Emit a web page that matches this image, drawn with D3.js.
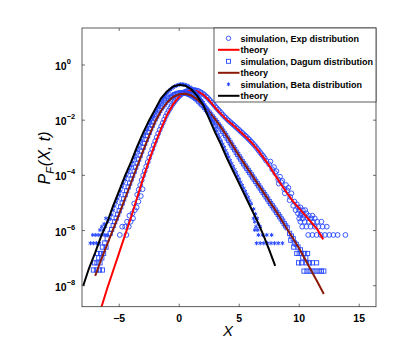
<!DOCTYPE html>
<html>
<head>
<meta charset="utf-8">
<script src="https://cdn.jsdelivr.net/npm/d3@7"></script>
<style>
  body { margin: 0; background: #fff; }
  text { font-family: "Liberation Sans", Arial, sans-serif; }
</style>
</head>
<body>
<svg id="chart"></svg>
<script>
// data: [x, log10 P]
const xTicks = [-5, 0, 5, 10, 15];
const yTickExps = [0, -2, -4, -6, -8];
const legendLabels = ["simulation, Exp distribution", "theory", "simulation, Dagum distribution", "theory", "simulation, Beta distribution", "theory"];

const theoryExp = [[-6.7,-9.1],[-6.5,-8.8],[-6,-8.1],[-5.5,-7.45],[-5,-6.8],[-4.5,-6.15],[-4,-5.5],[-3.5,-4.8],[-3,-4.1],[-2.5,-3.45],[-2,-2.85],[-1.5,-2.3],[-1,-1.8],[-0.5,-1.42],[0,-1.15],[0.5,-0.98],[1,-0.92],[1.5,-0.95],[2,-1.07],[2.5,-1.28],[3,-1.55],[3.5,-1.78],[4,-2.0],[4.5,-2.18],[5,-2.38],[5.5,-2.58],[6,-2.8],[6.5,-3.05],[7,-3.35],[7.5,-3.65],[8,-4.0],[8.5,-4.33],[9,-4.65],[9.5,-4.95],[10,-5.2],[10.5,-5.45],[11,-5.7],[11.5,-5.95],[12,-6.32]];

const theoryDagum = [[-7,-7.64],[-6.5,-7.05],[-6,-6.5],[-5.5,-5.95],[-5,-5.4],[-4.5,-4.82],[-4,-4.25],[-3.5,-3.67],[-3,-3.1],[-2.5,-2.55],[-2,-2.05],[-1.5,-1.65],[-1,-1.35],[-0.5,-1.15],[0,-1.06],[0.5,-1.04],[1,-1.1],[1.5,-1.25],[2,-1.45],[2.5,-1.7],[3,-1.97],[3.5,-2.27],[4,-2.6],[4.5,-2.95],[5,-3.3],[5.5,-3.63],[6,-3.95],[6.5,-4.28],[7,-4.6],[7.5,-4.93],[8,-5.25],[8.5,-5.6],[9,-5.95],[9.5,-6.3],[10,-6.65],[10.5,-7.05],[11,-7.45],[11.5,-7.85],[12.05,-8.3]];

const theoryBeta = [[-8,-8.0],[-7.5,-7.35],[-7,-6.8],[-6.5,-6.2],[-6,-5.7],[-5.5,-5.1],[-5,-4.55],[-4.5,-4.0],[-4,-3.5],[-3.5,-2.95],[-3,-2.45],[-2.5,-2.0],[-2,-1.6],[-1.5,-1.2],[-1,-0.95],[-0.5,-0.78],[0,-0.72],[0.5,-0.75],[1,-0.88],[1.5,-1.12],[2,-1.45],[2.5,-1.95],[3,-2.45],[3.5,-2.9],[4,-3.4],[4.5,-3.85],[5,-4.3],[5.5,-4.75],[6,-5.2],[6.5,-5.65],[7,-6.15],[7.5,-6.7],[8,-7.28]];

const simExp = [
  [-4.95,-6.16],[-4.4,-6.16],[-4.75,-5.86],[-4.5,-5.86],[-4.2,-5.86],[-4.35,-5.68],[-4.05,-5.68],[-3.85,-5.56],[-4.15,-5.46],[-3.9,-5.38],[-3.7,-5.26],[-3.55,-5.16],[-3.75,-5.02],[-3.4,-4.95],[-3.2,-4.75],[-3.05,-4.5],
  [-3.5,-4.7],[-3.25,-4.35],[-3,-4.0],[-2.75,-3.68],[-2.5,-3.36],[-2.25,-3.05],[-2,-2.76],[-1.75,-2.48],[-1.5,-2.22],[-1.25,-1.98],[-1,-1.75],[-0.75,-1.56],[-0.5,-1.39],[-0.25,-1.25],[0,-1.13],[0.25,-1.04],[0.5,-0.97],[0.75,-0.93],[1,-0.91],[1.25,-0.91],[1.5,-0.93],[1.75,-0.98],[2,-1.05],[2.25,-1.14],[2.5,-1.25],[2.75,-1.37],[3,-1.5],[3.25,-1.62],[3.5,-1.74],[3.75,-1.86],[4,-1.97],[4.25,-2.07],[4.5,-2.16],[4.75,-2.26],[5,-2.36],[5.25,-2.46],[5.5,-2.56],[5.75,-2.67],[6,-2.78],[6.25,-2.9],[6.5,-3.03],[6.75,-3.17],[7,-3.3],[7.25,-3.47],[7.5,-3.6],[7.75,-3.78],[8,-3.92],[8.25,-4.15],[8.5,-4.25],[8.75,-4.5],[9,-4.55],[9.25,-4.78],
  [-3.375,-4.52],[-3.125,-4.17],[-2.875,-3.84],[-2.625,-3.52],[-2.375,-3.2],[-2.125,-2.9],[-1.875,-2.62],[-1.625,-2.35],[-1.375,-2.1],[-1.125,-1.86],[-0.875,-1.65],[-0.625,-1.47],[-0.375,-1.32],[-0.125,-1.19],[0.125,-1.08],[0.375,-1.0],[0.625,-0.95],[0.875,-0.92],[1.125,-0.91],[1.375,-0.92],[1.625,-0.95],[1.875,-1.01],[2.125,-1.09],[2.375,-1.19],[2.625,-1.31],[2.875,-1.43],[3.125,-1.56],[3.375,-1.68],[3.625,-1.8],[3.875,-1.91],[4.125,-2.02],[4.375,-2.11],[4.625,-2.21],[4.875,-2.31],[5.125,-2.41],[5.375,-2.51],[5.625,-2.61],[5.875,-2.72],[6.125,-2.84],[6.375,-2.96],[6.625,-3.1],[6.875,-3.24],[7.125,-3.38],
  [7.6,-3.5],[7.9,-3.7],[8.1,-3.85],[8.4,-4.05],[8.6,-4.2],[8.9,-4.35],[9.1,-4.45],[9.35,-4.65],[8.3,-4.3],[8.8,-4.65],[9.2,-4.9],
  [9.6,-4.95],[9.8,-5.05],[9.5,-5.1],[9.9,-5.16],[10.1,-5.16],[9.7,-5.26],[10.0,-5.26],[10.3,-5.26],[10.5,-5.26],[9.9,-5.38],[10.2,-5.38],[10.6,-5.38],[10.1,-5.46],[10.4,-5.46],[10.8,-5.46],[11.1,-5.46],[10.0,-5.56],[10.3,-5.56],[10.7,-5.56],[11.0,-5.56],[11.3,-5.56],[10.1,-5.68],[10.45,-5.68],[10.8,-5.68],[11.15,-5.68],[11.5,-5.68],[11.85,-5.68],[10.25,-5.86],[10.6,-5.86],[10.95,-5.86],[11.3,-5.86],[11.6,-5.86],[11.95,-5.86],[12.3,-5.86],[10.75,-6.16],[11.1,-6.16],[11.45,-6.16],[11.8,-6.16],[12.15,-6.16],[12.5,-6.16],[12.85,-6.16],[13.2,-6.16],[13.85,-6.16]
];

const simDagum = [
  [-6.0,-6.3],[-6.2,-6.45],[-6.1,-6.6],[-6.4,-6.6],[-6.3,-6.83],[-6.55,-6.83],[-6.8,-6.83],[-6.45,-6.99],[-6.7,-6.99],[-6.6,-7.17],[-6.85,-7.17],[-7.05,-7.17],[-6.4,-7.43],[-6.65,-7.43],[-6.9,-7.43],[-7.15,-7.43],
  [-5.75,-6.1],[-5.5,-5.82],[-5.25,-5.55],[-5,-5.28],[-4.75,-5.0],[-4.5,-4.7],[-4.25,-4.42],[-4,-4.13],[-3.75,-3.85],[-3.5,-3.56],[-3.25,-3.27],[-3,-2.98],[-2.75,-2.7],[-2.5,-2.44],[-2.25,-2.19],[-2,-1.95],[-1.75,-1.75],[-1.5,-1.56],[-1.25,-1.42],[-1,-1.28],[-0.75,-1.18],[-0.5,-1.1],[-0.25,-1.05],[0,-1.02],[0.25,-1.01],[0.5,-1.02],[0.75,-1.05],[1,-1.1],[1.25,-1.17],[1.5,-1.26],[1.75,-1.37],[2,-1.48],[2.25,-1.61],[2.5,-1.74],[2.75,-1.88],[3,-2.02],[3.25,-2.17],[3.5,-2.32],[3.75,-2.48],[4,-2.65],[4.25,-2.82],[4.5,-2.99],[4.75,-3.16],[5,-3.33],[5.25,-3.5],[5.5,-3.66],[5.75,-3.82],[6,-3.98],[6.25,-4.14],[6.5,-4.3],[6.75,-4.46],[7,-4.62],[7.25,-4.78],[7.5,-4.95],[7.75,-5.1],[8,-5.26],[8.25,-5.42],[8.5,-5.58],[8.75,-5.75],[9,-5.9],
  [-5.625,-5.96],[-5.375,-5.68],[-5.125,-5.41],[-4.875,-5.14],[-4.625,-4.85],[-4.375,-4.56],[-4.125,-4.28],[-3.875,-3.99],[-3.625,-3.7],[-3.375,-3.41],[-3.125,-3.12],[-2.875,-2.84],[-2.625,-2.57],[-2.375,-2.31],[-2.125,-2.07],[-1.875,-1.85],[-1.625,-1.65],[-1.375,-1.49],[-1.125,-1.35],[-0.875,-1.23],[-0.625,-1.14],[-0.375,-1.07],[-0.125,-1.03],[0.125,-1.01],[0.375,-1.01],[0.625,-1.03],[0.875,-1.07],[1.125,-1.13],[1.375,-1.21],[1.625,-1.31],[1.875,-1.42],[2.125,-1.54],[2.375,-1.67],[2.625,-1.81],[2.875,-1.95],[3.125,-2.09],[3.375,-2.24],[3.625,-2.4],[3.875,-2.56],[4.125,-2.73],[4.375,-2.9],[4.625,-3.07],[4.875,-3.24],[5.125,-3.41],[5.375,-3.58],[5.625,-3.74],[5.875,-3.9],[6.125,-4.06],[6.375,-4.22],[6.625,-4.38],[6.875,-4.54],[7.125,-4.7],[7.375,-4.86],[7.625,-5.02],[7.875,-5.18],[8.125,-5.34],[8.375,-5.5],[8.625,-5.66],[8.875,-5.83],
  [9.2,-6.1],[9.35,-6.2],[9.5,-6.3],[9.3,-6.35],[9.6,-6.45],[9.75,-6.5],[9.55,-6.6],[9.9,-6.6],[10.1,-6.7],[9.8,-6.83],[10.0,-6.83],[10.2,-6.83],[10.45,-6.83],[10.7,-6.83],[10.3,-6.99],[10.55,-6.99],[9.95,-7.17],[10.2,-7.17],[10.6,-7.17],[10.85,-7.17],[11.1,-7.17],[11.45,-7.17],[10.4,-7.47],[10.65,-7.47],[10.9,-7.47],[11.15,-7.47],[11.4,-7.47],[11.65,-7.47],[11.85,-7.47],[12.05,-7.47]
];

const simBeta = [
  [-7.4,-6.46],[-7.15,-6.46],[-6.9,-6.46],[-6.65,-6.46],[-7.2,-6.16],[-6.95,-6.16],[-6.7,-6.16],[-6.45,-6.16],[-6.2,-6.16],[-6.0,-6.16],[-6.6,-5.98],[-6.3,-5.98],[-6.45,-5.86],[-6.15,-5.86],[-6.25,-5.76],[-5.95,-5.68],[-6.1,-5.56],
  [-5.75,-5.58],[-5.5,-5.27],[-5.25,-4.98],[-5,-4.72],[-4.75,-4.43],[-4.5,-4.16],[-4.25,-3.9],[-4,-3.66],[-3.75,-3.38],[-3.5,-3.11],[-3.25,-2.85],[-3,-2.6],[-2.75,-2.37],[-2.5,-2.14],[-2.25,-1.93],[-2,-1.72],[-1.75,-1.52],[-1.5,-1.33],[-1.25,-1.16],[-1,-1.02],[-0.75,-0.9],[-0.5,-0.81],[-0.25,-0.75],[0,-0.71],[0.25,-0.7],[0.5,-0.72],[0.75,-0.76],[1,-0.83],[1.25,-0.93],[1.5,-1.05],[1.75,-1.19],[2,-1.35],[2.25,-1.55],[2.5,-1.79],[2.75,-2.03],[3,-2.29],[3.25,-2.52],[3.5,-2.75],[3.75,-2.98],[4,-3.22],[4.25,-3.46],[4.5,-3.68],[4.75,-3.9],[5,-4.13],[5.25,-4.36],[5.5,-4.58],[5.75,-4.8],[6,-5.03],
  [-5.625,-5.43],[-5.375,-5.12],[-5.125,-4.85],[-4.875,-4.58],[-4.625,-4.3],[-4.375,-4.03],[-4.125,-3.78],[-3.875,-3.52],[-3.625,-3.25],[-3.375,-2.98],[-3.125,-2.73],[-2.875,-2.48],[-2.625,-2.26],[-2.375,-2.03],[-2.125,-1.83],[-1.875,-1.62],[-1.625,-1.43],[-1.375,-1.24],[-1.125,-1.09],[-0.875,-0.96],[-0.625,-0.85],[-0.375,-0.78],[-0.125,-0.73],[0.125,-0.7],[0.375,-0.71],[0.625,-0.74],[0.875,-0.8],[1.125,-0.88],[1.375,-0.99],[1.625,-1.12],[1.875,-1.27],[2.125,-1.45],[2.375,-1.67],[2.625,-1.91],[2.875,-2.16],[3.125,-2.4],[3.375,-2.63],[3.625,-2.87],[3.875,-3.1],[4.125,-3.34],[4.375,-3.57],[4.625,-3.79],[4.875,-4.02],[5.125,-4.25],[5.375,-4.47],[5.625,-4.69],[5.875,-4.92],
  [6.2,-5.22],[6.35,-5.4],[6.2,-5.56],[6.5,-5.56],[6.3,-5.68],[6.6,-5.76],[6.4,-5.86],[6.75,-5.86],[6.3,-5.98],[6.55,-5.98],[6.6,-6.16],[6.95,-6.16],[7.3,-6.16],[7.7,-6.16],[6.45,-6.46],[6.75,-6.46],[7.05,-6.46],[7.35,-6.46],[7.65,-6.46],[7.95,-6.46],[8.25,-6.46],[8.6,-6.46]
];

const width = 415;
const height = 346;
const plot = {left: 82, right: 376, top: 28, bottom: 306.7};

const svg = d3.select('svg#chart').attr('width', width).attr('height', height);

const x = d3.scaleLinear().domain([-8.1, 16.4]).range([plot.left, plot.right]);
const y = d3.scaleLog().domain([Math.pow(10, -8.76), Math.pow(10, 1.34)]).range([plot.bottom, plot.top]);

const blue = "#2748ff";
const red = "#ff0000";
const brown = "#8c1a08";

svg.append("defs").append("clipPath").attr("id", "clip")
  .append("rect")
  .attr("x", plot.left).attr("y", plot.top)
  .attr("width", plot.right - plot.left).attr("height", plot.bottom - plot.top);

const g = svg.append("g").attr("clip-path", "url(#clip)");

const line = d3.line()
  .x(d => x(d[0]))
  .y(d => y(Math.pow(10, d[1])));

function drawCircles(data) {
  g.append("g").selectAll("circle").data(data).join("circle")
    .attr("cx", d => x(d[0]))
    .attr("cy", d => y(Math.pow(10, d[1])))
    .attr("r", 2.4)
    .attr("fill", "none")
    .attr("stroke", blue)
    .attr("stroke-width", 0.9);
}
function drawSquares(data) {
  g.append("g").selectAll("rect").data(data).join("rect")
    .attr("x", d => x(d[0]) - 2.1)
    .attr("y", d => y(Math.pow(10, d[1])) - 2.1)
    .attr("width", 4.2).attr("height", 4.2)
    .attr("fill", "none")
    .attr("stroke", blue)
    .attr("stroke-width", 0.9);
}
function drawStars(data) {
  g.append("g").selectAll("path").data(data).join("path")
    .attr("transform", d => "translate(" + x(d[0]) + "," + y(Math.pow(10, d[1])) + ")")
    .attr("d", d3.symbol(d3.symbolAsterisk, 12))
    .attr("fill", "none")
    .attr("stroke", blue)
    .attr("stroke-width", 1);
}
function drawLine(data, color) {
  g.append("path").datum(data)
    .attr("d", line)
    .attr("fill", "none")
    .attr("stroke", color)
    .attr("stroke-width", 2)
    .attr("stroke-linejoin", "round");
}

drawCircles(simExp);
drawLine(theoryExp, red);
drawSquares(simDagum);
drawLine(theoryDagum, brown);
drawStars(simBeta);
drawLine(theoryBeta, "#000");

// axes box and ticks
const axisColor = "#333";
svg.append("rect")
  .attr("x", plot.left).attr("y", plot.top)
  .attr("width", plot.right - plot.left).attr("height", plot.bottom - plot.top)
  .attr("fill", "none").attr("stroke", axisColor).attr("stroke-width", 0.8);

const tl = 3;
xTicks.forEach(t => {
  svg.append("line").attr("x1", x(t)).attr("x2", x(t)).attr("y1", plot.bottom).attr("y2", plot.bottom - tl).attr("stroke", axisColor).attr("stroke-width", 0.7);
  svg.append("line").attr("x1", x(t)).attr("x2", x(t)).attr("y1", plot.top).attr("y2", plot.top + tl).attr("stroke", axisColor).attr("stroke-width", 0.7);
  svg.append("text")
    .attr("x", x(t)).attr("y", 321.5)
    .attr("text-anchor", "middle")
    .attr("font-size", 10.5).attr("font-weight", "bold")
    .text(t < 0 ? "\u2212" + Math.abs(t) : t);
});

yTickExps.forEach(e => {
  const yy = y(Math.pow(10, e));
  svg.append("line").attr("x1", plot.left).attr("x2", plot.left + tl).attr("y1", yy).attr("y2", yy).attr("stroke", axisColor).attr("stroke-width", 0.7);
  svg.append("line").attr("x1", plot.right).attr("x2", plot.right - tl).attr("y1", yy).attr("y2", yy).attr("stroke", axisColor).attr("stroke-width", 0.7);
  const t = svg.append("text")
    .attr("x", 55).attr("y", yy + 5)
    .attr("font-weight", "bold");
  t.append("tspan").attr("font-size", 10.5).text("10");
  t.append("tspan").attr("font-size", 7.5).attr("dy", -6).text(e < 0 ? "\u2212" + Math.abs(e) : e);
});

// axis labels
svg.append("text")
  .attr("x", 228).attr("y", 336)
  .attr("text-anchor", "middle")
  .attr("font-family", "Liberation Serif, Times New Roman, serif")
  .attr("font-style", "italic")
  .attr("font-size", 15)
  .text("X");

const yl = svg.append("text")
  .attr("transform", "translate(50,158) rotate(-90)")
  .attr("text-anchor", "middle")
  .attr("font-family", "Liberation Serif, Times New Roman, serif")
  .attr("font-style", "italic")
  .attr("font-size", 16);
yl.append("tspan").text("P");
yl.append("tspan").attr("font-size", 11).attr("dy", 4).text("F");
yl.append("tspan").attr("dy", -4).attr("dx", 1).text("(X, t)");

// legend
const lg = svg.append("g");
lg.append("rect")
  .attr("x", 214).attr("y", plot.top)
  .attr("width", plot.right - 214).attr("height", 74)
  .attr("fill", "#fff").attr("stroke", axisColor).attr("stroke-width", 0.8);

const rowY = i => 38.3 + i * 11.5;
const mx = 228.5;
lg.append("circle").attr("cx", mx).attr("cy", rowY(0)).attr("r", 2.2).attr("fill", "none").attr("stroke", blue).attr("stroke-width", 0.9);
lg.append("rect").attr("x", mx - 2).attr("y", rowY(2) - 2).attr("width", 4).attr("height", 4).attr("fill", "none").attr("stroke", blue).attr("stroke-width", 0.9);
lg.append("path").attr("transform", "translate(" + mx + "," + rowY(4) + ")").attr("d", d3.symbol(d3.symbolAsterisk, 10)).attr("fill", "none").attr("stroke", blue).attr("stroke-width", 1);
[red, brown, "#000"].forEach((c, k) => {
  lg.append("line").attr("x1", 218).attr("x2", 239.5).attr("y1", rowY(2 * k + 1)).attr("y2", rowY(2 * k + 1))
    .attr("stroke", c).attr("stroke-width", 2);
});
legendLabels.forEach((s, i) => {
  lg.append("text")
    .attr("x", 240.5).attr("y", rowY(i) + 3.3)
    .attr("font-size", 9).attr("font-weight", "bold")
    .text(s);
});
</script>
</body>
</html>
